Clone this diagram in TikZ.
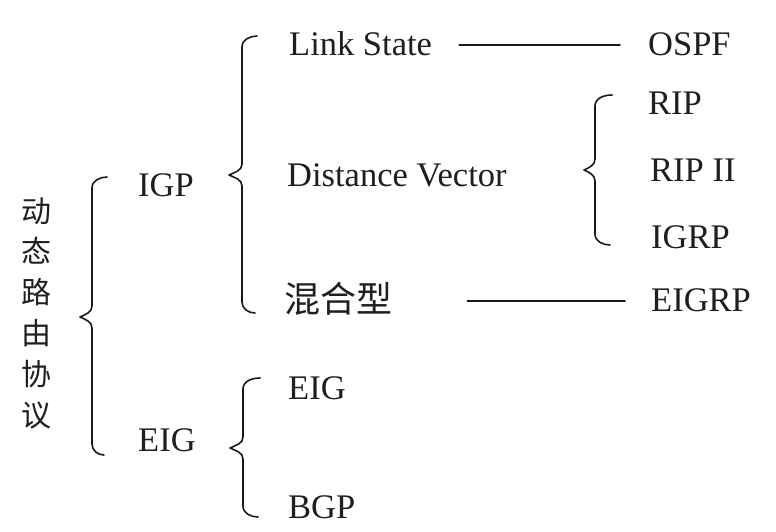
\documentclass[tikz,border=0pt]{standalone}
\usepackage{fontspec}
\setmainfont{Liberation Serif}
\newfontfamily\cjk{Noto Sans CJK SC}
\usepackage{tikz}

\tikzset{
  curly/.style={line width=1.6pt, join=round, line cap=round, draw=black!90},
  item/.style={anchor=west, inner sep=0pt, text=black!88, font=\fontsize{34.5}{40}\selectfont},
  hanzi/.style={anchor=west, inner sep=0pt, text=black!88, font=\cjk\fontsize{36}{40}\selectfont},
}

\begin{document}
\begin{tikzpicture}[x=1pt,y=-1pt]%
\useasboundingbox[fill=white] (0,0) rectangle (776,531);%
% vertical title
\node[inner sep=0pt, align=center, text=black!88, font=\cjk\fontsize{30}{40.8}\selectfont] (dyn) at (36,313) {动\\态\\路\\由\\协\\议};%
% first level
\node[item] (igp) at (138,185) {IGP};%
\node[item] (eig) at (138,440) {EIG};%
% second level
\node[item] (ls) at (289,44) {Link State};%
\node[item] (dv) at (287,175) {Distance Vector};%
\node[hanzi] (hyb) at (284,299) {混合型};%
\node[item] (eigb) at (288,388) {EIG};%
\node[item] (bgp) at (288,507) {BGP};%
% third level
\node[item] (ospf) at (648,44) {OSPF};%
\node[item] (rip) at (648,103) {RIP};%
\node[item] (ripii) at (650,170) {RIP II};%
\node[item] (igrp) at (651,237) {IGRP};%
\node[item] (eigrp) at (651,300) {EIGRP};%
% connectors
\draw[curly, shorten <=27pt, shorten >=28pt] (ls.east |- 0,45) -- (ospf.west |- 0,45);%
\draw[curly, shorten <=75pt, shorten >=26pt] (hyb.east |- 0,301) -- (eigrp.west |- 0,301);%
% curly brackets
\draw[curly] (107,177) to[out=180,in=90] (92,188) -- (92,306) to[out=-90,in=25] (80,317) to[out=-25,in=90] (92,328) -- (92,444) to[out=-90,in=180] (104,455);%
\draw[curly] (257,36) to[out=180,in=90] (242,47) -- (242,164) to[out=-90,in=25] (229,175) to[out=-25,in=90] (242,186) -- (242,302) to[out=-90,in=180] (255,313);%
\draw[curly] (612,95) to[out=180,in=90] (595,106) -- (595,159) to[out=-90,in=25] (584,170) to[out=-25,in=90] (595,181) -- (595,234) to[out=-90,in=180] (610,245);%
\draw[curly] (260,378) to[out=180,in=90] (243,389) -- (243,437) to[out=-90,in=25] (230,448) to[out=-25,in=90] (243,459) -- (243,506) to[out=-90,in=180] (258,517);%
\end{tikzpicture}
\end{document}
